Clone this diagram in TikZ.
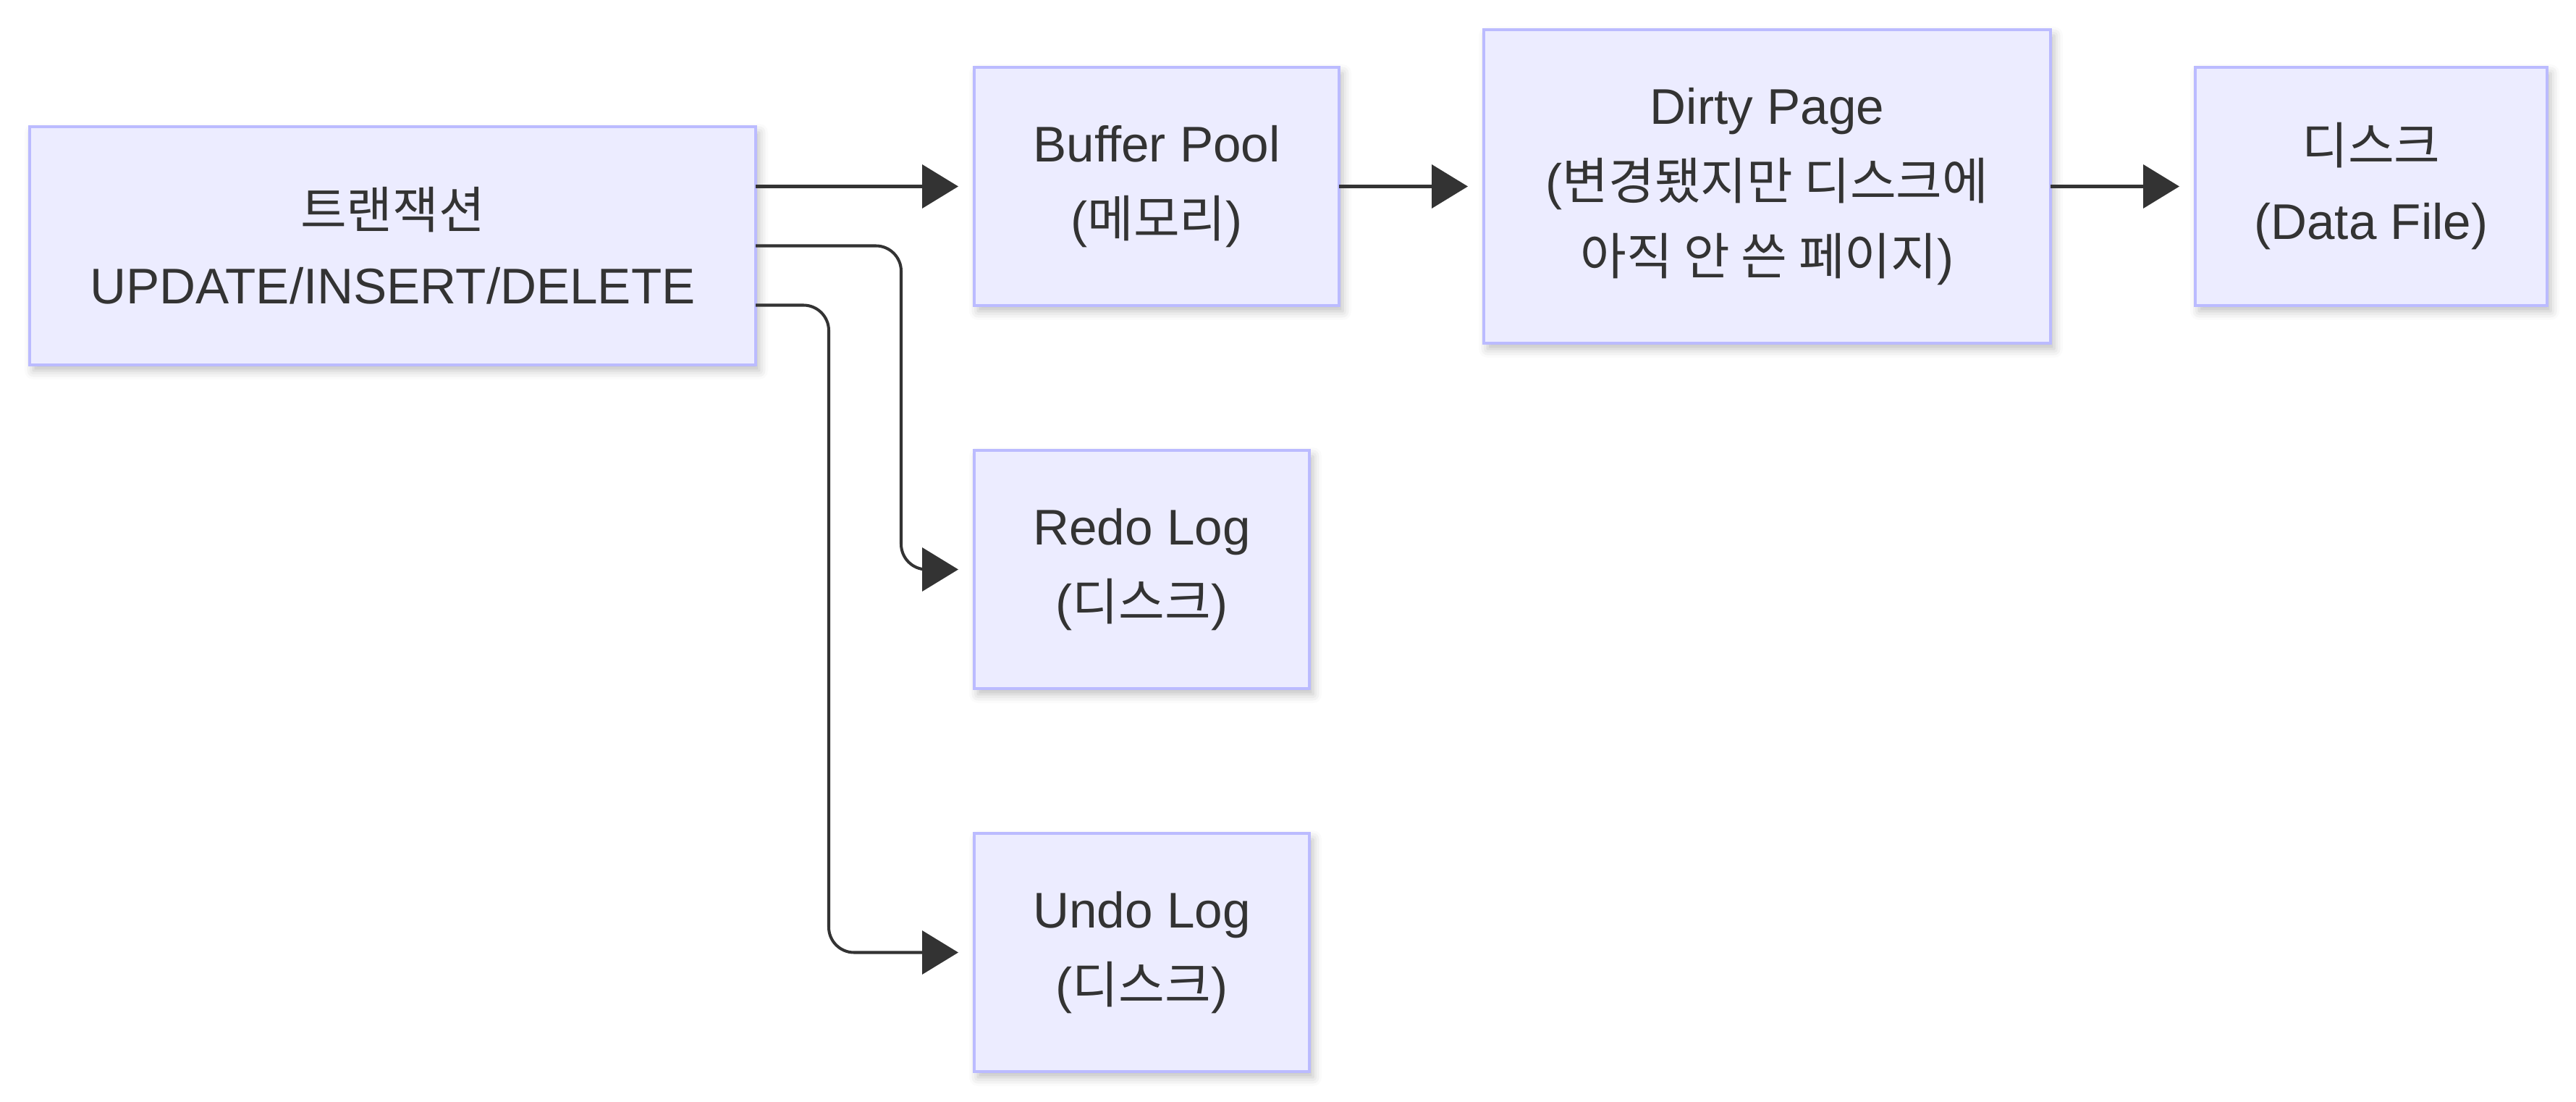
\documentclass[tikz,border=0pt]{standalone}
\usepackage{fontspec}
\setmainfont{Liberation Sans}
\newfontfamily\kr[Scale=1.0]{Noto Sans CJK KR}
\usetikzlibrary{arrows.meta, positioning, calc, shadows.blur}
\usepackage{xcolor}
\definecolor{boxfill}{HTML}{ECECFF}
\definecolor{boxline}{HTML}{BBBBFF}
\definecolor{ink}{HTML}{333333}

\begin{document}
\begin{tikzpicture}[
    box/.style={draw=boxline, fill=boxfill, line width=1.3pt, rectangle, inner sep=0pt, outer sep=0pt, minimum height=3.29cm, align=center, text=ink, font=\fontsize{19.7}{29.6}\selectfont, blur shadow={shadow xshift=0.05cm, shadow yshift=-0.08cm, shadow blur radius=0.12cm, shadow opacity=25}},
    arrow/.style={draw=ink, line width=1.15pt, -{Triangle[length=0.5cm, width=0.6cm]}, shorten >=0.22cm},
    elbow/.style={arrow, rounded corners=0.35cm}
]
\useasboundingbox (0,0) rectangle (35.59,-15.22);

% Write Path
\node (txn) [box, minimum width=10.03cm] at (5.425,-3.395) {{\kr 트랜잭션}\\UPDATE/INSERT/DELETE};
\node (buf) [box, minimum width=5.04cm, right=3.02cm of txn, yshift=0.82cm] {Buffer Pool\\({\kr 메모리})};
\node (dirty) [box, minimum width=7.83cm, minimum height=4.33cm, right=2cm of buf] {Dirty Page\\({\kr 변경됐지만 디스크에}\\{\kr 아직 안 쓴 페이지})};
\node (disk) [box, minimum width=4.86cm, right=2cm of dirty] {{\kr 디스크}\\(Data File)};

\draw [arrow] (txn.east |- buf.west) -- (buf.west);
\draw [arrow] (buf) -- (dirty);
\draw [arrow] (dirty) -- (disk);

% Logs
\node (redo) [box, minimum width=4.63cm, below=2cm of buf.south west, anchor=north west] {Redo Log\\({\kr 디스크})};
\node (undo) [box, minimum width=4.63cm, below=2cm of redo] {Undo Log\\({\kr 디스크})};

\draw [elbow] (txn.east) -- ++(2.01,0) |- (redo.west);
\draw [elbow] ($(txn.east)+(0,-0.82)$) -- ++(1.01,0) |- (undo.west);

\end{tikzpicture}
\end{document}
